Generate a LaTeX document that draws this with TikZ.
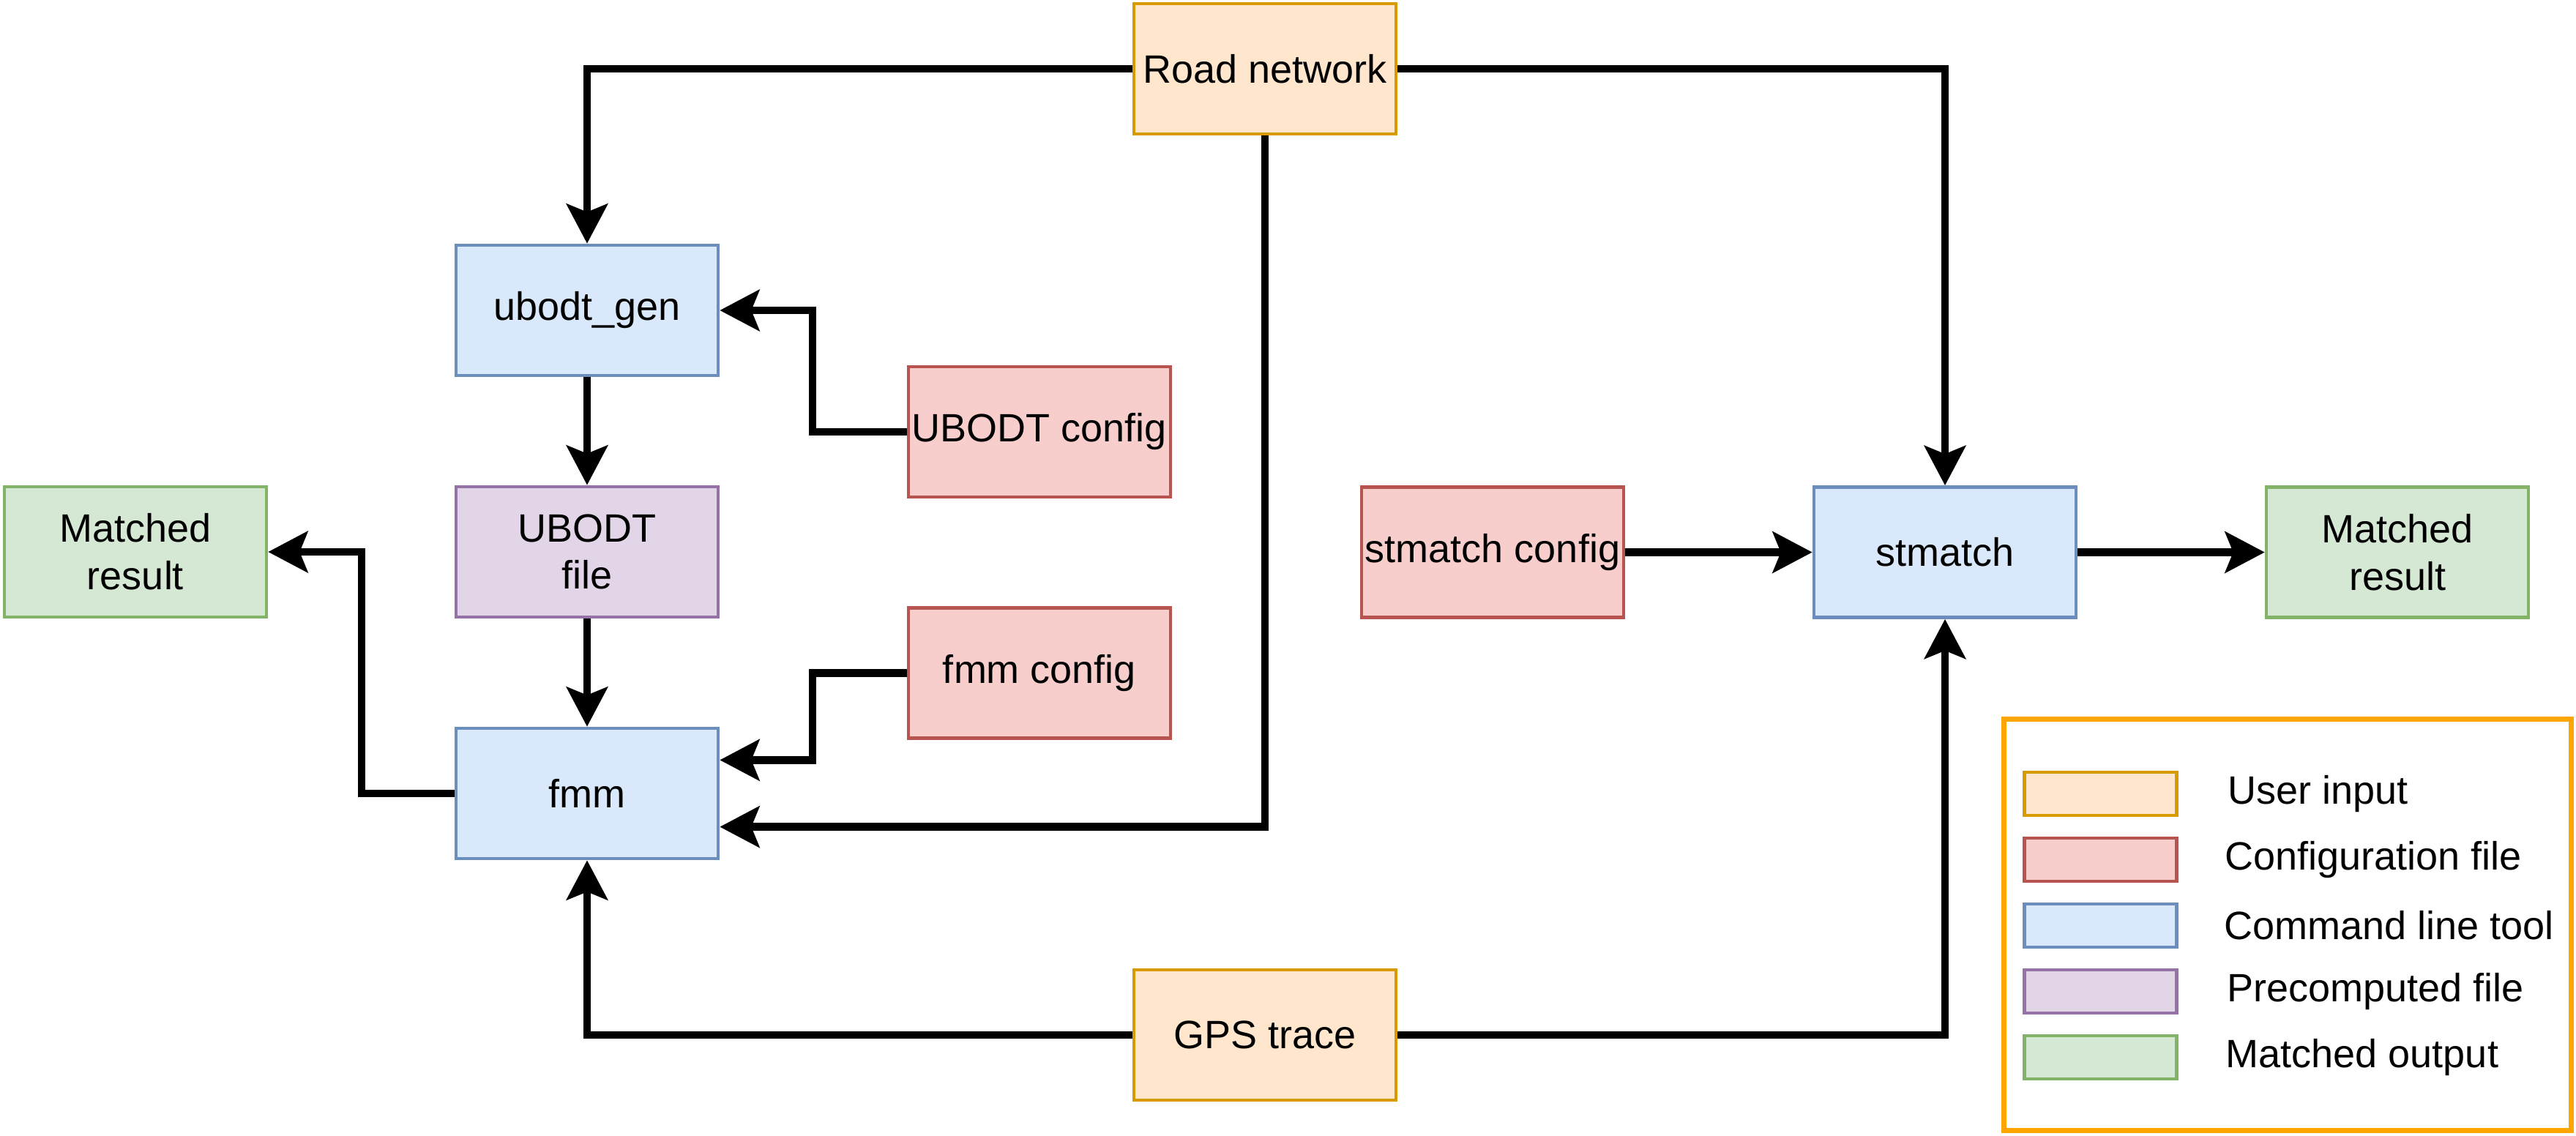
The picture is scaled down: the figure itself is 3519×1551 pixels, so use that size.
\documentclass[tikz,border=0pt]{standalone}
\usepackage{fontspec}
\setmainfont{Liberation Sans}
\usetikzlibrary{arrows.meta,calc}
\definecolor{orF}{HTML}{FFE6CC}\definecolor{orD}{HTML}{D79B00}
\definecolor{rdF}{HTML}{F8CECC}\definecolor{rdD}{HTML}{B85450}
\definecolor{blF}{HTML}{DAE8FC}\definecolor{blD}{HTML}{6C8EBF}
\definecolor{puF}{HTML}{E1D5E7}\definecolor{puD}{HTML}{9673A6}
\definecolor{grF}{HTML}{D5E8D4}\definecolor{grD}{HTML}{82B366}
\definecolor{lgD}{HTML}{FFA500}
\begin{document}
\begin{tikzpicture}[x=0.25pt,y=-0.25pt,
  box/.style={draw,line width=1.15pt,minimum width=89.5pt,minimum height=44.5pt,inner sep=0pt,align=center,
     font=\fontsize{13.5}{16.2}\selectfont},
  usr/.style={box,fill=orF,draw=orD},
  cfg/.style={box,fill=rdF,draw=rdD},
  tool/.style={box,fill=blF,draw=blD},
  pre/.style={box,fill=puF,draw=puD},
  outp/.style={box,fill=grF,draw=grD},
  sw/.style={draw,line width=1.15pt,minimum width=52pt,minimum height=14.8pt,inner sep=0pt},
  lab/.style={anchor=west,inner sep=0pt,font=\fontsize{13.5}{16.2}\selectfont},
  arr/.style={line width=2.6pt,-{Stealth[length=13.5pt,width=14pt,inset=2.75pt]}}]
\useasboundingbox (0,0) rectangle (3519,1551);
% nodes
\node[usr]  (road)  at (1728,94)    {Road network};
\node[usr]  (gps)   at (1728,1414)  {GPS trace};
\node[tool] (ugen)  at (802,424)    {ubodt\_gen};
\node[pre]  (ufile) at (802,754)    {UBODT\\file};
\node[tool] (fmm)   at (802,1084)   {fmm};
\node[outp] (mresL) at (185,754)    {Matched\\result};
\node[cfg]  (ucfg)  at (1420,590)   {UBODT config};
\node[cfg]  (fcfg)  at (1420,919.5) {fmm config};
\node[cfg]  (scfg)  at (2039,754.5) {stmatch config};
\node[tool] (stm)   at (2657,754.5) {stmatch};
\node[outp] (mresR) at (3275,754.5) {Matched\\result};
% legend
\node[draw=lgD,line width=1.7pt,minimum width=193.8pt,minimum height=140.6pt,inner sep=0pt] (leg) at (3125,1263.3) {};
\node[sw,fill=orF,draw=orD] (s1) at (2869.5,1084.4) {};
\node[sw,fill=rdF,draw=rdD] (s2) at (2869.5,1174.4) {};
\node[sw,fill=blF,draw=blD] (s3) at (2869.5,1264.4) {};
\node[sw,fill=puF,draw=puD] (s4) at (2869.5,1354.4) {};
\node[sw,fill=grF,draw=grD] (s5) at (2869.5,1444.4) {};
\node[lab] (l1) at (3043,1084.4) {User input};
\node[lab] (l2) at (3039,1174.4) {Configuration file};
\node[lab] (l3) at (3038,1264.4) {Command line tool};
\node[lab] (l4) at (3042,1354.4) {Precomputed file};
\node[lab] (l5) at (3040,1444.4) {Matched output};
% connectors
\draw[arr] (road.west) -| (ugen.north);
\draw[arr] (road.east) -| (stm.north);
\draw[arr] (road.south) |- ($(fmm.east)!0.5!(fmm.south east)$);
\draw[arr] (ugen.south) -- (ufile.north);
\draw[arr] (ufile.south) -- (fmm.north);
\draw[arr] (ucfg.west) -- ++(-129,0) |- (ugen.east);
\draw[arr] (fcfg.west) -- ++(-129,0) |- ($(fmm.east)!0.5!(fmm.north east)$);
\draw[arr] (fmm.west) -- ++(-127,0) |- (mresL.east);
\draw[arr] (gps.west) -| (fmm.south);
\draw[arr] (gps.east) -| (stm.south);
\draw[arr] (scfg.east) -- (stm.west);
\draw[arr] (stm.east) -- (mresR.west);
\end{tikzpicture}
\end{document}
